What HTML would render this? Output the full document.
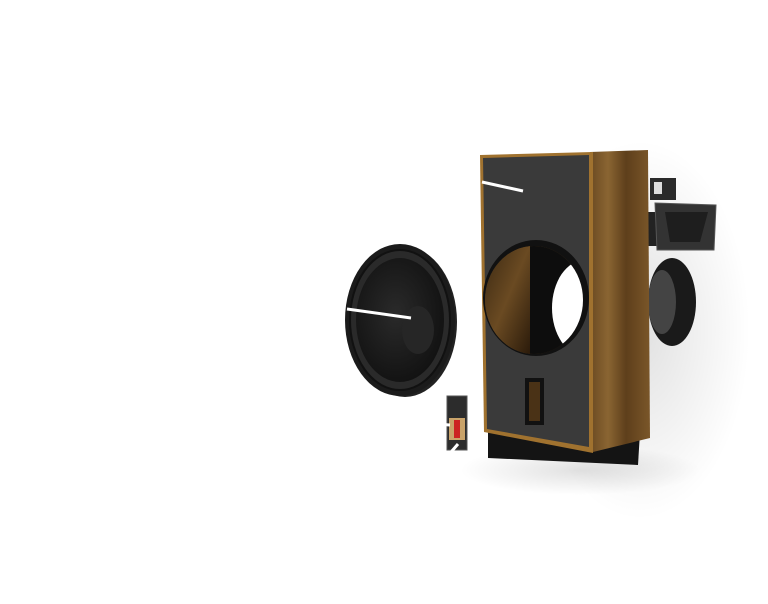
<!DOCTYPE html>
<html><head><style>html,body{margin:0;padding:0;background:#fff;}svg{display:block}</style></head>
<body>
<svg width="768" height="604" viewBox="0 0 768 604" xmlns="http://www.w3.org/2000/svg">
<defs>
<linearGradient id="wood" x1="0" y1="0" x2="1" y2="0">
<stop offset="0" stop-color="#6b4a22"/><stop offset="0.3" stop-color="#8a6532"/><stop offset="0.6" stop-color="#5e3f1b"/><stop offset="1" stop-color="#7a5629"/></linearGradient>
<linearGradient id="woodIn" x1="0" y1="0" x2="1" y2="1">
<stop offset="0" stop-color="#3a2812"/><stop offset="0.5" stop-color="#6a4a22"/><stop offset="1" stop-color="#2a1a0a"/></linearGradient>
<radialGradient id="sh" cx="0.5" cy="0.5" r="0.5"><stop offset="0" stop-color="#000" stop-opacity="0.12"/><stop offset="1" stop-color="#000" stop-opacity="0"/></radialGradient>
<radialGradient id="cone" cx="0.45" cy="0.45" r="0.6"><stop offset="0" stop-color="#2a2a2a"/><stop offset="1" stop-color="#111"/></radialGradient>
<clipPath id="hole"><ellipse cx="534" cy="300" rx="49" ry="54"/></clipPath>
</defs>
<ellipse cx="640" cy="330" rx="110" ry="190" fill="url(#sh)"/>
<ellipse cx="580" cy="470" rx="120" ry="25" fill="url(#sh)"/>
<rect x="650" y="178" width="26" height="22" fill="#2a2a2a"/>
<rect x="654" y="182" width="8" height="12" fill="#ddd"/>
<rect x="645" y="212" width="18" height="34" fill="#222"/>
<polygon points="655,203 716,205 714,250 657,250" fill="#333" stroke="#555"/>
<polygon points="665,212 708,212 700,242 670,242" fill="#1e1e1e"/>
<ellipse cx="672" cy="302" rx="24" ry="44" fill="#1a1a1a"/>
<ellipse cx="662" cy="302" rx="14" ry="32" fill="#444"/>
<polygon points="488,430 640,432 638,465 488,458" fill="#141414"/>
<polygon points="590,152 648,150 650,438 593,452" fill="url(#wood)"/>
<polygon points="480,155 593,152 593,453 484,432" fill="#a0722f"/>
<polygon points="483,158 589,155 589,447 487,429" fill="#3a3a3a"/>
<ellipse cx="536" cy="298" rx="53" ry="58" fill="#111"/>
<ellipse cx="534" cy="300" rx="49" ry="54" fill="url(#woodIn)"/>
<g clip-path="url(#hole)">
<rect x="530" y="240" width="60" height="120" fill="#0d0d0d"/>
<ellipse cx="585" cy="308" rx="33" ry="48" fill="#fff"/>
<rect x="484" y="245" width="46" height="110" fill="url(#woodIn)"/>
</g>
<rect x="525" y="378" width="19" height="47" fill="#111"/>
<rect x="529" y="382" width="11" height="39" fill="#4a3216"/>
<line x1="482" y1="182" x2="523" y2="191" stroke="#fff" stroke-width="3"/>
<ellipse cx="405" cy="322" rx="52" ry="75" fill="#222"/>
<ellipse cx="400" cy="320" rx="55" ry="76" fill="#1b1b1b"/>
<ellipse cx="400" cy="320" rx="50" ry="70" fill="#2a2a2a" stroke="#111" stroke-width="2"/>
<ellipse cx="400" cy="320" rx="44" ry="62" fill="url(#cone)"/>
<ellipse cx="418" cy="330" rx="16" ry="24" fill="#262626"/>
<line x1="347" y1="309" x2="411" y2="318" stroke="#fff" stroke-width="3"/>
<rect x="447" y="396" width="20" height="54" fill="#2c2c2c" stroke="#555"/>
<rect x="449" y="418" width="16" height="22" fill="#c9a36a"/>
<rect x="454" y="420" width="6" height="18" fill="#c22"/>
<line x1="345" y1="418" x2="450" y2="425" stroke="#fff" stroke-width="3"/>
<line x1="432" y1="474" x2="458" y2="444" stroke="#fff" stroke-width="3"/>
</svg>
</body></html>
